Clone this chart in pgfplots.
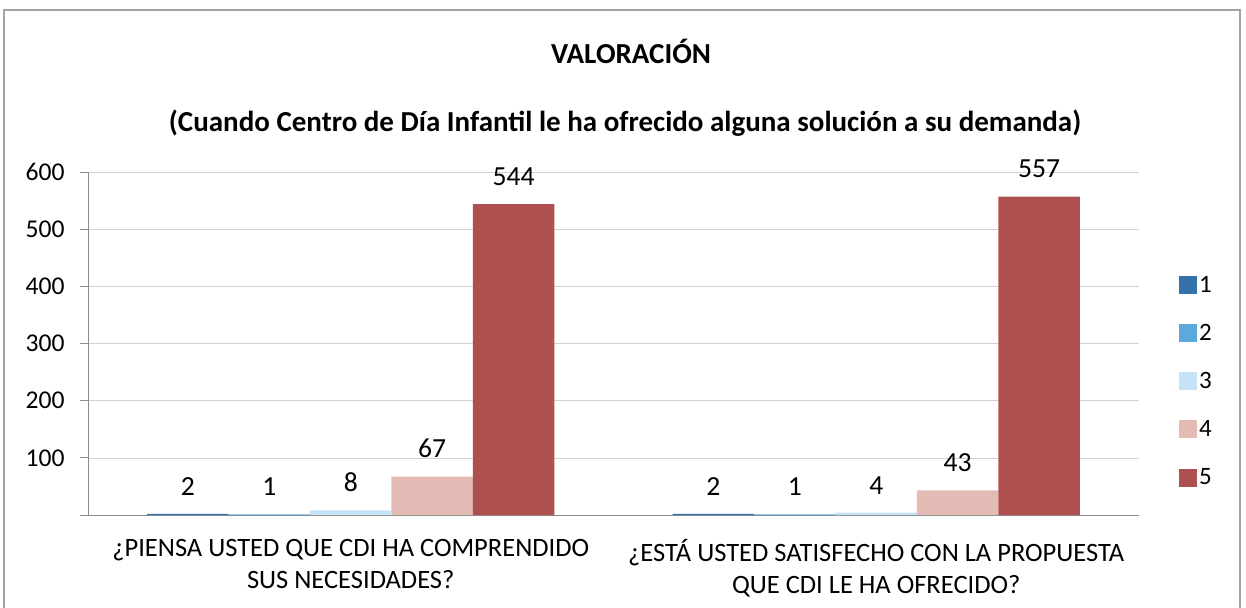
\documentclass[border=0pt]{standalone}
\usepackage{pgfplots}
\pgfplotsset{compat=1.18}
\usepackage{fontspec}
\setmainfont{Carlito}
\definecolor{c1}{HTML}{3572AC}
\definecolor{c2}{HTML}{5DA9DC}
\definecolor{c3}{HTML}{C6E2F7}
\definecolor{c4}{HTML}{E3BBB4}
\definecolor{c5}{HTML}{AD504F}
\definecolor{axgray}{HTML}{8C8C8C}
\begin{document}
\begin{tikzpicture}
\useasboundingbox (0,0) rectangle (1246pt,607pt);
\draw[axgray!80, line width=1.2pt] (4pt,-5pt) -- (4pt,597pt) -- (1240pt,597pt) -- (1240pt,-5pt);
\node[font=\fontsize{29}{34}\selectfont\bfseries] at (631pt,556pt) {VALORACIÓN};
\node[font=\fontsize{29}{34}\selectfont\bfseries] at (625pt,484pt) {(Cuando Centro de Día Infantil le ha ofrecido alguna solución a su demanda)};
\begin{axis}[
  at={(88pt,92pt)}, anchor=south west,
  scale only axis, width=1051pt, height=343pt,
  xmin=-0.5, xmax=1.5, ymin=0, ymax=600,
  ybar=0pt, bar width=0.155,
  axis lines*=left,
  axis line style={axgray, line width=0.8pt},
  /pgf/number format/assume math mode=true,
  ytick={0,100,...,600},
  yticklabels={,100,200,300,400,500,600},
  ymajorgrids, grid style={gray!35, line width=0.6pt},
  tick align=outside, major tick length=8pt,
  tick style={axgray, line width=0.8pt},
  yticklabel style={font=\fontsize{25.6}{30}\selectfont, xshift=-12pt},
  xtick={0,1},
  xticklabels={{¿PIENSA USTED QUE CDI HA COMPRENDIDO\\SUS NECESIDADES?},{¿ESTÁ USTED SATISFECHO CON LA PROPUESTA\\QUE CDI LE HA OFRECIDO?}},
  xticklabel style={font=\fontsize{26.5}{32}\selectfont, align=center, yshift=-13pt},
  x tick style={draw=none},
  extra x ticks={-0.5,0.5,1.5},
  extra x tick labels={},
  extra x tick style={tick style={axgray, line width=0.8pt}, major tick length=9pt, grid=none},
  nodes near coords,
  every node near coord/.append style={font=\fontsize{27.6}{32}\selectfont, yshift=15pt, text=black},
  legend style={at={(1.035,0.39)}, anchor=west, draw=none, fill=none,
    font=\fontsize{25}{30}\selectfont, row sep=26.5pt, cells={anchor=west}},
  legend image code/.code={\fill[#1] (0pt,-9pt) rectangle (18pt,9pt);},
]
\addplot[fill=c1, draw=none] coordinates {(0,2) (1,2)};
\addplot[fill=c2, draw=none] coordinates {(0,1) (1,1)};
\addplot[fill=c3, draw=none] coordinates {(0,8) (1,4)};
\addplot[fill=c4, draw=none] coordinates {(0,67) (1,43)};
\addplot[fill=c5, draw=none] coordinates {(0,544) (1,557)};
\legend{1,2,3,4,5}
\end{axis}
\end{tikzpicture}
\end{document}
